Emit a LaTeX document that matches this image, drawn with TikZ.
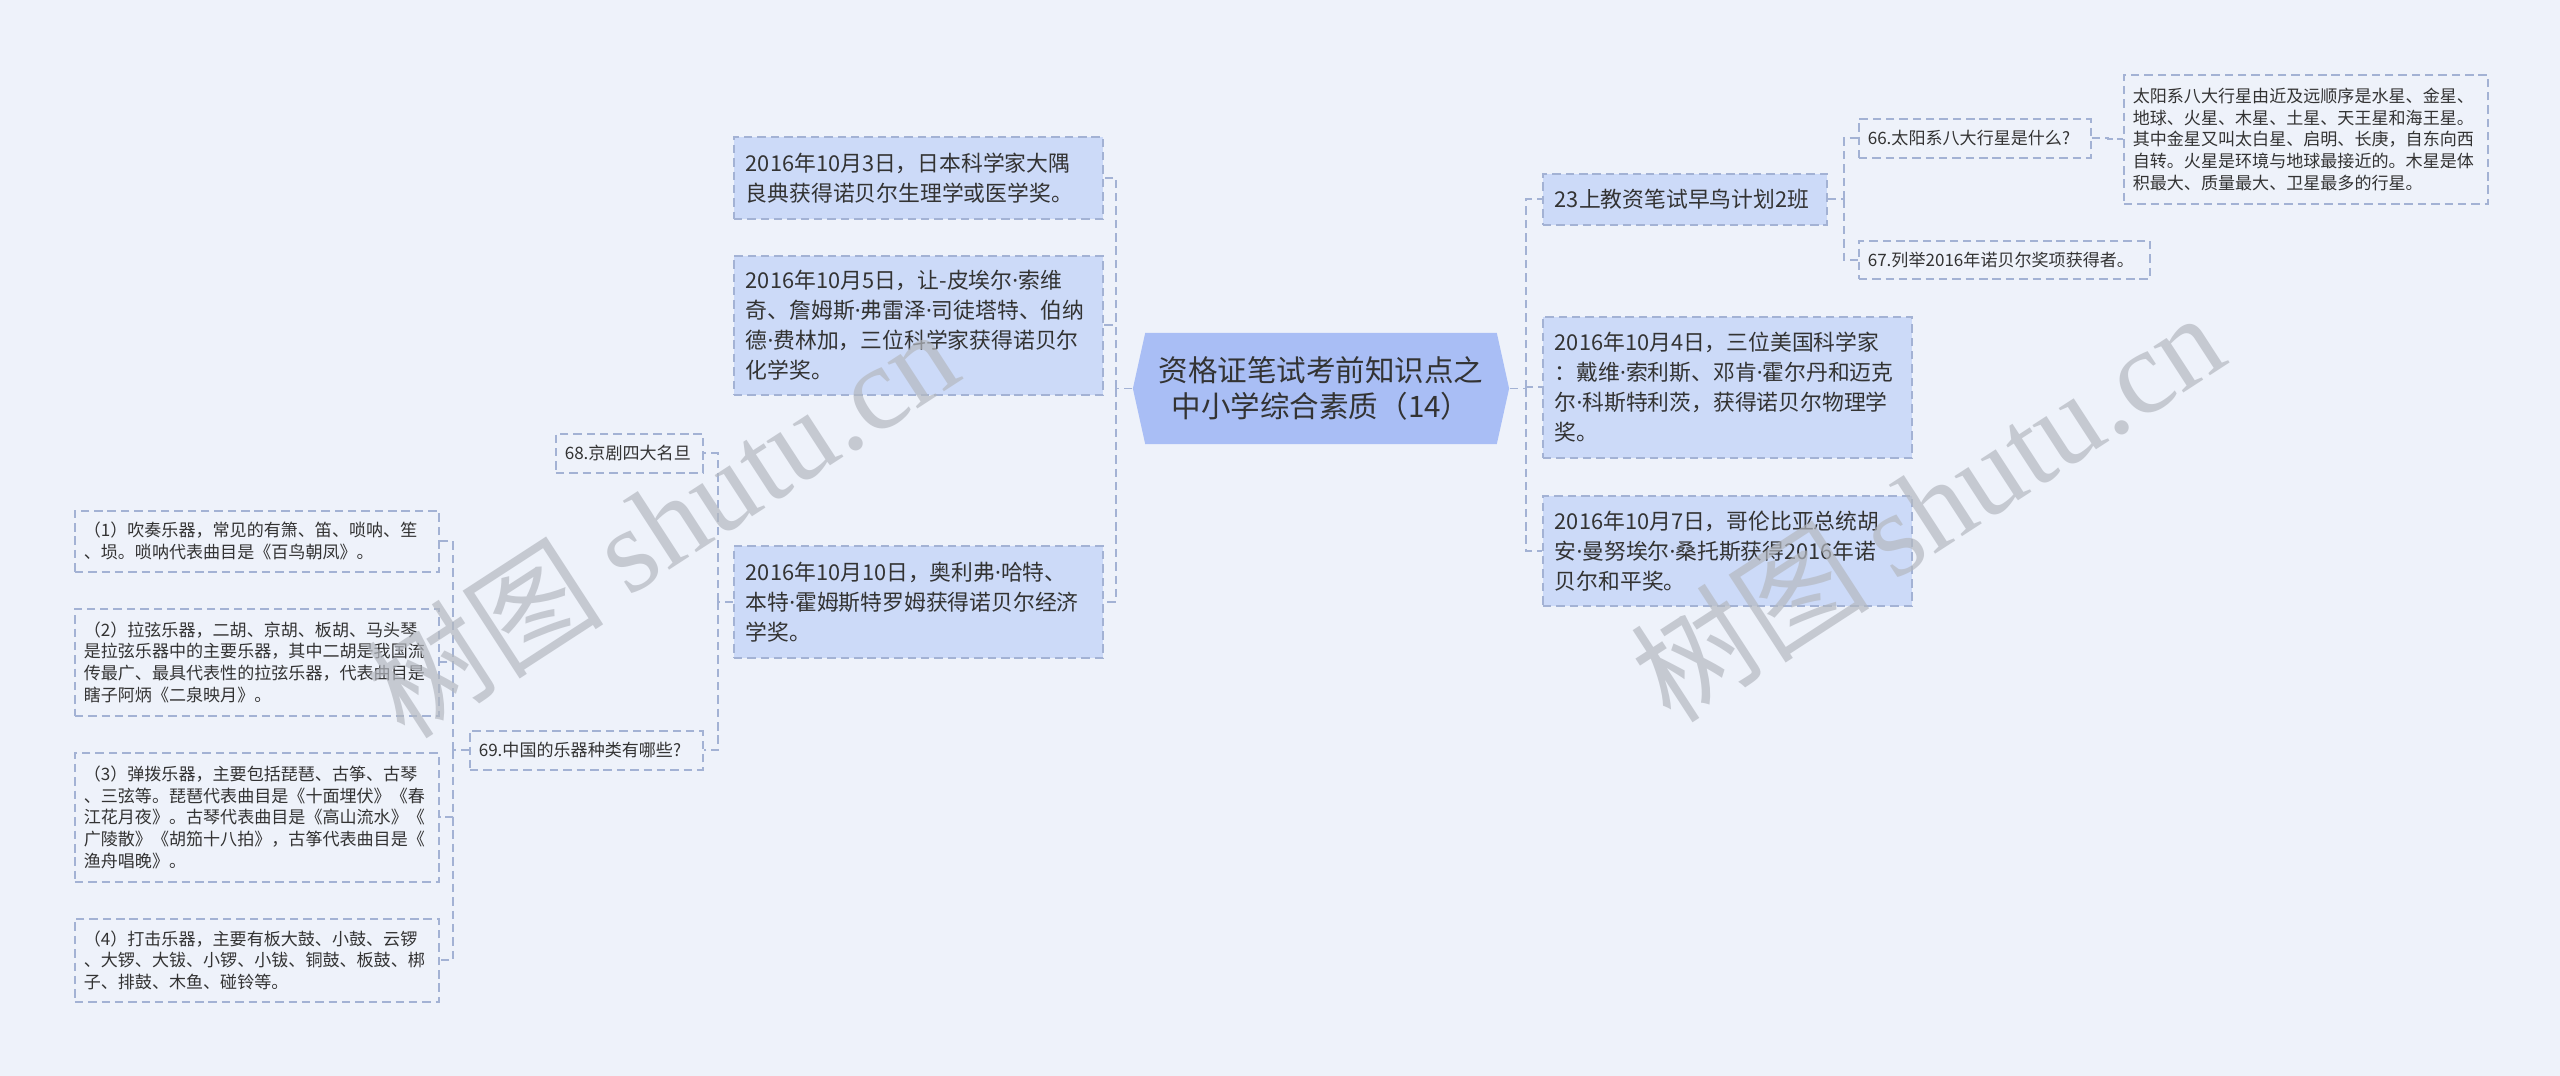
\documentclass[tikz,border=0pt]{standalone}
\usepackage{fontspec}
\setmainfont{Noto Sans CJK SC}
\newfontfamily\wmlatin{Liberation Serif}
\newfontfamily\narrowlatin{Noto Sans}
\usepackage{xcolor}
\usetikzlibrary{calc,shapes.symbols}

\definecolor{bgblue}{HTML}{EEF2FA}
\definecolor{rootfill}{HTML}{A9BEF5}
\definecolor{topicfill}{HTML}{CCDAF8}
\definecolor{edgeblue}{HTML}{A3B2D4}
\definecolor{inkgray}{HTML}{333333}
\definecolor{wmgray}{HTML}{B4B8C0}

\newcommand{\rootfont}{\fontsize{8.4pt}{10.4pt}\selectfont}
\newcommand{\topicfont}{\fontsize{6.2pt}{8.5pt}\selectfont}
\newcommand{\notefont}{\fontsize{4.85pt}{6.2pt}\selectfont}
\newcommand{\midot}{{\narrowlatin ·}}

\tikzset{
  rootbox/.style={signal, signal to=east and west, signal pointer angle=155,
    fill=rootfill, text=inkgray, font=\rootfont, align=center,
    minimum width=3.76cm, minimum height=1.11cm, inner sep=0pt},
  topicbox/.style={draw=edgeblue, dash pattern=on 2.4pt off 1.4pt, line width=0.45pt,
    fill=topicfill, text=inkgray, font=\topicfont, align=left,
    inner xsep=0.12cm, inner ysep=0pt, anchor=north west},
  notebox/.style={topicbox, fill=none, font=\notefont, inner xsep=0.09cm},
  link/.style={draw=edgeblue, line width=0.55pt, dash pattern=on 2.4pt off 1.4pt},
  watermark/.style={text=wmgray, opacity=0.7, rotate=33,
    font=\fontsize{34pt}{34pt}\selectfont},
}

\begin{document}
\begin{tikzpicture}[x=0.01cm,y=-0.01cm]
  \fill[bgblue] (0,0) rectangle (2560,1076);
  \useasboundingbox (0,0) rectangle (2560,1076);

  \node[rootbox] (root) at (1321,388.5) {资格证笔试考前知识点之\\中小学综合素质（14）};

  % left side
  \node[topicbox, text width=3.45cm, minimum height=0.82cm] (oct3) at (733,136)
    {2016年10月3日，日本科学家大隅\\良典获得诺贝尔生理学或医学奖。};
  \node[topicbox, text width=3.45cm, minimum height=1.39cm] (oct5) at (733,255)
    {2016年10月5日，让-皮埃尔\midot 索维\\奇、詹姆斯\midot 弗雷泽\midot 司徒塔特、伯纳\\德\midot 费林加，三位科学家获得诺贝尔\\化学奖。};
  \node[topicbox, text width=3.45cm, minimum height=1.12cm] (oct10) at (733,545)
    {2016年10月10日，奥利弗\midot 哈特、\\本特\midot 霍姆斯特罗姆获得诺贝尔经济\\学奖。};
  \node[notebox, text width=1.29cm, minimum height=0.39cm] (q68) at (555,433) {68.京剧四大名旦};
  \node[notebox, text width=2.15cm, minimum height=0.39cm] (q69) at (469,730) {69.中国的乐器种类有哪些?};
  \node[notebox, text width=3.46cm, minimum height=0.61cm] (wind) at (74,510)
    {（1）吹奏乐器，常见的有箫、笛、唢呐、笙\\、埙。唢呐代表曲目是《百鸟朝凤》。};
  \node[notebox, text width=3.46cm, minimum height=1.07cm] (string) at (74,608)
    {（2）拉弦乐器，二胡、京胡、板胡、马头琴\\是拉弦乐器中的主要乐器，其中二胡是我国流\\传最广、最具代表性的拉弦乐器，代表曲目是\\瞎子阿炳《二泉映月》。};
  \node[notebox, text width=3.46cm, minimum height=1.29cm] (pluck) at (74,752)
    {（3）弹拨乐器，主要包括琵琶、古筝、古琴\\、三弦等。琵琶代表曲目是《十面埋伏》《春\\江花月夜》。古琴代表曲目是《高山流水》《\\广陵散》《胡笳十八拍》，古筝代表曲目是《\\渔舟唱晚》。};
  \node[notebox, text width=3.46cm, minimum height=0.83cm] (perc) at (74,918)
    {（4）打击乐器，主要有板大鼓、小鼓、云锣\\、大锣、大钹、小锣、小钹、铜鼓、板鼓、梆\\子、排鼓、木鱼、碰铃等。};

  % right side
  \node[topicbox, text width=2.60cm, minimum height=0.51cm] (early) at (1542,173) {23上教资笔试早鸟计划2班};
  \node[topicbox, text width=3.45cm, minimum height=1.41cm] (oct4) at (1542,316)
    {2016年10月4日，三位美国科学家\\：戴维\midot 索利斯、邓肯\midot 霍尔丹和迈克\\尔\midot 科斯特利茨，获得诺贝尔物理学\\奖。};
  \node[topicbox, text width=3.45cm, minimum height=1.10cm] (oct7) at (1542,495)
    {2016年10月7日，哥伦比亚总统胡\\安\midot 曼努埃尔\midot 桑托斯获得2016年诺\\贝尔和平奖。};
  \node[notebox, text width=2.14cm, minimum height=0.39cm] (q66) at (1858,118) {66.太阳系八大行星是什么?};
  \node[notebox, text width=2.73cm, minimum height=0.38cm] (q67) at (1858,240) {67.列举2016年诺贝尔奖项获得者。};
  \node[notebox, text width=3.46cm, minimum height=1.29cm] (planets) at (2123,74)
    {太阳系八大行星由近及远顺序是水星、金星、\\地球、火星、木星、土星、天王星和海王星。\\其中金星又叫太白星、启明、长庚，自东向西\\自转。火星是环境与地球最接近的。木星是体\\积最大、质量最大、卫星最多的行星。};

  \coordinate (lbus) at ($(root.west)+(-16,0)$);
  \draw[link] (root.west) -- (lbus);
  \foreach \b in {oct3,oct5,oct10} \draw[link] (lbus) |- (\b.east);
  \coordinate (mbus) at ($(oct10.west)+(-15,0)$);
  \draw[link] (oct10.west) -- (mbus);
  \foreach \b in {q68,q69} \draw[link] (mbus) |- (\b.east);
  \coordinate (ibus) at ($(q69.west)+(-16,0)$);
  \draw[link] (q69.west) -- (ibus);
  \foreach \b in {wind,string,pluck,perc} \draw[link] (ibus) |- (\b.east);

  \coordinate (rbus) at ($(root.east)+(16,0)$);
  \draw[link] (root.east) -- (rbus);
  \foreach \b in {early,oct4,oct7} \draw[link] (rbus) |- (\b.west);
  \coordinate (ebus) at ($(early.east)+(16,0)$);
  \draw[link] (early.east) -- (ebus);
  \foreach \b in {q66,q67} \draw[link] (ebus) |- (\b.west);
  \coordinate (sbus) at ($(q66.east)+(16,0)$);
  \draw[link] (q66.east) -- (sbus) |- (planets.west);

  \node[watermark] (wmleft) at (661,522) {树图 {\wmlatin shutu.cn}};
  \node[watermark] (wmright) at (1927,506) {树图 {\wmlatin shutu.cn}};
\end{tikzpicture}
\end{document}
